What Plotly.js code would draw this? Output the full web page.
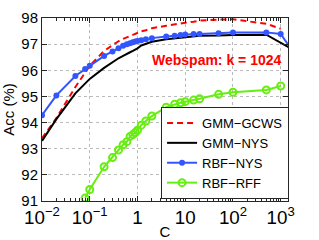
<!DOCTYPE html>
<html>
<head>
<meta charset="utf-8">
<script src="https://cdn.plot.ly/plotly-3.0.1.min.js"></script>
<style>html,body{margin:0;padding:0;background:#fff;}#chart{width:319px;height:240px;}</style>
</head>
<body>
<div id="chart"></div>
<script>
// C values (x axis, log scale)
var cValues = [0.01, 0.02, 0.05, 0.08, 0.1, 0.2, 0.3, 0.4, 0.5, 0.6, 0.7, 0.8, 0.9, 1, 1.2, 1.5, 2, 4, 6, 8, 10, 15, 20, 50, 100, 500, 1000, 2000];

// Accuracy (%) per series
var gmmGcws = [93.40, 94.17, 95.36, 95.94, 96.17, 96.74, 96.97, 97.11, 97.20, 97.26, 97.32, 97.36, 97.40, 97.44, 97.49, 97.53, 97.61, 97.70, 97.76, 97.79, 97.82, 97.86, 97.90, 97.94, 97.95, 97.78, 97.59, null];
var gmmNys  = [93.30, 94.13, 95.12, 95.51, 95.67, 96.09, 96.32, 96.46, 96.55, 96.61, 96.69, 96.74, 96.78, 96.84, 96.95, 97.01, 97.09, 97.19, 97.22, 97.25, 97.28, 97.31, 97.32, 97.33, 97.35, 97.36, null, 96.74];
var rbfNys  = [94.28, 95.04, 95.78, 96.05, 96.17, 96.55, 96.72, 96.84, 96.94, 97.00, 97.03, 97.07, 97.10, 97.12, 97.15, 97.19, 97.23, 97.29, 97.32, 97.35, 97.37, 97.39, 97.39, 97.42, 97.45, 97.45, 97.39, 96.59];
var rbfRff  = [null, null, null, 91.11, 91.44, 92.31, 92.66, 92.95, 93.15, 93.27, 93.47, 93.54, 93.62, 93.71, 93.90, 94.06, 94.25, 94.59, 94.70, 94.76, 94.80, 94.86, 94.91, 95.08, 95.16, 95.25, 95.40, null];

var seriesNames = ["GMM\u2212GCWS", "GMM\u2212NYS", "RBF\u2212NYS", "RBF\u2212RFF"];
var yTicks = [91, 92, 93, 94, 95, 96, 97, 98];
var titleText = "Webspam: k = 1024";

var FONT = "Liberation Sans, Arial, Helvetica, sans-serif";

var traces = [
  {x: cValues, y: gmmGcws, name: seriesNames[0], mode: "lines",
   line: {color: "#ff0000", width: 2, dash: "6px,4px"}},
  {x: cValues, y: gmmNys, name: seriesNames[1], mode: "lines",
   line: {color: "#000000", width: 2}, connectgaps: true},
  {x: cValues, y: rbfNys, name: seriesNames[2], mode: "lines+markers",
   line: {color: "#3355ff", width: 2}, marker: {color: "#3355ff", size: 6, symbol: "circle"}},
  {x: cValues, y: rbfRff, name: seriesNames[3], mode: "lines+markers",
   line: {color: "#66ee11", width: 2},
   marker: {color: "#66ee11", size: 7, symbol: "circle-open", line: {color: "#66ee11", width: 2}}}
];

var axisCommon = {
  showline: true, linecolor: "#262626", linewidth: 1, mirror: "allticks",
  ticks: "inside", ticklen: 5, tickcolor: "#262626",
  showgrid: true, gridcolor: "#bbbbbb", griddash: "dot", gridwidth: 1,
  zeroline: false,
  tickfont: {family: FONT, size: 15, color: "#000"}
};

var layout = {
  width: 319, height: 240,
  margin: {l: 42, r: 31, t: 18, b: 39},
  paper_bgcolor: "#fff", plot_bgcolor: "#fff",
  showlegend: true,
  xaxis: Object.assign({}, axisCommon, {
    type: "log", range: [-2, 3.153], dtick: 1, exponentformat: "power",
    minor: {ticks: "inside", ticklen: 3, tickcolor: "#262626", showgrid: false},
    title: {text: "C", font: {family: FONT, size: 15, color: "#000"}, standoff: 6}
  }),
  yaxis: Object.assign({}, axisCommon, {
    range: [91, 98], tickvals: yTicks,
    title: {text: "Acc (%)", font: {family: FONT, size: 15, color: "#000"}, standoff: 6}
  }),
  legend: {
    x: 0.484, y: 0.011, xanchor: "left", yanchor: "bottom",
    bgcolor: "#fff", bordercolor: "#262626", borderwidth: 1,
    font: {family: FONT, size: 13, color: "#000"},
    itemwidth: 30, tracegroupgap: 0
  },
  annotations: [{
    text: "<b>" + titleText + "</b>", xref: "paper", yref: "paper",
    x: 0.985, y: 0.77, xanchor: "right", yanchor: "middle", showarrow: false,
    font: {family: FONT, size: 14, color: "#ff0000"}
  }]
};

Plotly.newPlot("chart", traces, layout, {displayModeBar: false, staticPlot: true});
</script>
</body>
</html>
